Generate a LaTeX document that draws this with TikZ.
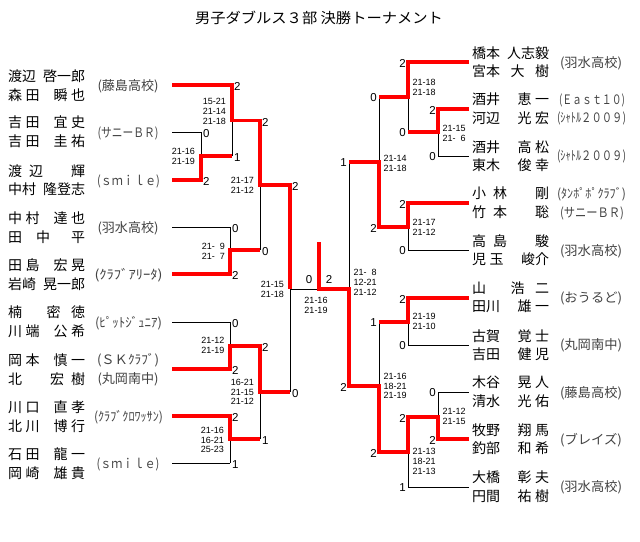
\documentclass[tikz,border=0pt]{standalone}
\usepackage{fontspec}
\usepackage{graphicx}
\setmainfont{Liberation Sans}
\newfontfamily\jpf{Noto Sans CJK JP}
\newfontfamily\numf{Liberation Sans}
\definecolor{labgray}{RGB}{66,66,66}
\definecolor{winred}{RGB}{255,0,0}
\newsavebox\fitbox
\newcommand\fitw[2]{\sbox\fitbox{#2}\pgfmathsetmacro\fitr{#1/\the\wd\fitbox}\scalebox{\fitr}[1]{\usebox\fitbox}}
\newcommand\nmb[1]{\makebox[77pt][s]{#1}}
\tikzset{
  br/.style={line width=0.9pt, black},
  win/.style={line width=3.3pt, winred, line join=miter},
  pname/.style={font=\jpf\fontsize{14}{14}\selectfont, inner sep=0pt, anchor=west},
  lab/.style={font=\jpf\fontsize{13}{13}\selectfont, inner sep=0pt, text=labgray},
  scr/.style={font=\numf\fontsize{11.5}{11.5}\selectfont, inner sep=0pt},
  gm/.style={font=\numf\fontsize{9}{9.8}\selectfont, inner sep=0pt},
  ttl/.style={font=\jpf\fontsize{14.5}{14.5}\selectfont, inner sep=0pt}
}
\begin{document}
\begin{tikzpicture}[x=1pt,y=-1pt]
\fill[white] (0,0) rectangle (640,541);
\useasboundingbox (0,0) rectangle (640,541);

\node[ttl] (title) at (319,18) {\fitw{248}{男子ダブルス３部 決勝トーナメント}};

% ---------- left players ----------
\node[pname] (l1a) at (8,75.8) {\nmb{渡辺 啓一郎}};
\node[pname] (l1b) at (8,95) {\nmb{森 田　瞬 也}};
\node[pname] (l2a) at (8,122.5) {\nmb{吉 田　宜 史}};
\node[pname] (l2b) at (8,141.7) {\nmb{吉 田　圭 祐}};
\node[pname] (l3a) at (8,170.8) {\nmb{渡 辺　　輝}};
\node[pname] (l3b) at (8,189.6) {\nmb{中村 隆登志}};
\node[pname] (l4a) at (8,217.8) {\nmb{中 村　達 也}};
\node[pname] (l4b) at (8,237) {\nmb{田　中 　平}};
\node[pname] (l5a) at (8,264.8) {\nmb{田 島　宏 晃}};
\node[pname] (l5b) at (8,284) {\nmb{岩崎 晃一郎}};
\node[pname] (l6a) at (8,312.5) {\nmb{楠 　密 徳}};
\node[pname] (l6b) at (8,331.7) {\nmb{川 端　公 希}};
\node[pname] (l7a) at (8,359.8) {\nmb{岡 本　慎 一}};
\node[pname] (l7b) at (8,379) {\nmb{北 　 宏 樹}};
\node[pname] (l8a) at (8,407) {\nmb{川 口　直 孝}};
\node[pname] (l8b) at (8,426.3) {\nmb{北 川　博 行}};
\node[pname] (l9a) at (8,454.3) {\nmb{石 田　龍 一}};
\node[pname] (l9b) at (8,473.3) {\nmb{岡 崎　雄 貴}};

% ---------- left teams ----------
\node[lab] (k1) at (128,86) {\fitw{61}{(藤島高校)}};
\node[lab] (k2) at (128,133) {\fitw{61}{(サニーＢＲ)}};
\node[lab] (k3) at (128.5,181) {\fitw{63}{(ｓｍｉｌｅ)}};
\node[lab] (k4) at (128,228) {\fitw{61}{(羽水高校)}};
\node[lab] (k5) at (128.5,275) {\fitw{68}{(ｸﾗﾌﾞｱﾘｰﾀ)}};
\node[lab] (k6) at (128.5,323) {\fitw{67}{(ﾋﾟｯﾄｼﾞｭﾆｱ)}};
\node[lab] (k7a) at (128,360) {\fitw{62}{(ＳＫｸﾗﾌﾞ)}};
\node[lab] (k7b) at (128,379) {\fitw{61}{(丸岡南中)}};
\node[lab] (k8) at (128.5,417) {\fitw{69}{(ｸﾗﾌﾞｸﾛﾜｯｻﾝ)}};
\node[lab] (k9) at (128,464) {\fitw{63}{(ｓｍｉｌｅ)}};

% ---------- right players ----------
\node[pname] (r1a) at (472,53) {\nmb{橋本 人志毅}};
\node[pname] (r1b) at (472,71) {\nmb{宮本 大 樹}};
\node[pname] (r2a) at (472,99.5) {\nmb{酒井 　恵 一}};
\node[pname] (r2b) at (472,117.8) {\nmb{河辺 　光 宏}};
\node[pname] (r3a) at (472,146.8) {\nmb{酒井 　高 松}};
\node[pname] (r3b) at (472,165) {\nmb{東木 　俊 幸}};
\node[pname] (r4a) at (472,193.5) {\nmb{小 林 　 剛}};
\node[pname] (r4b) at (472,211.7) {\nmb{竹 本 　 聡}};
\node[pname] (r5a) at (472,240.8) {\nmb{高 島 　 駿}};
\node[pname] (r5b) at (472,259) {\nmb{児 玉 　峻介}};
\node[pname] (r6a) at (472,288.5) {\nmb{山 　浩 二}};
\node[pname] (r6b) at (472,306.7) {\nmb{田川 　雄 一}};
\node[pname] (r7a) at (472,335.8) {\nmb{古賀 　覚 士}};
\node[pname] (r7b) at (472,354) {\nmb{吉田 　健 児}};
\node[pname] (r8a) at (472,382.5) {\nmb{木谷 　晃 人}};
\node[pname] (r8b) at (472,400.7) {\nmb{清水 　光 佑}};
\node[pname] (r9a) at (472,430) {\nmb{牧野 　翔 馬}};
\node[pname] (r9b) at (472,448.3) {\nmb{釣部 　和 希}};
\node[pname] (r10a) at (472,477.5) {\nmb{大橋 　彰 夫}};
\node[pname] (r10b) at (472,495.7) {\nmb{円間 　祐 樹}};

% ---------- right teams ----------
\node[lab] (q1) at (591,63) {\fitw{62}{(羽水高校)}};
\node[lab] (q2a) at (592,100) {\fitw{66}{(Ｅａｓｔ１０)}};
\node[lab] (q2b) at (591.5,118.3) {\fitw{69}{(ｼｬﾄﾙ２００９)}};
\node[lab] (q3) at (591.5,156) {\fitw{69}{(ｼｬﾄﾙ２００９)}};
\node[lab] (q4a) at (591.5,194) {\fitw{69}{(ﾀﾝﾎﾟﾎﾟｸﾗﾌﾞ)}};
\node[lab] (q4b) at (592,213) {\fitw{64}{(サニーＢＲ)}};
\node[lab] (q5) at (591,251) {\fitw{62}{(羽水高校)}};
\node[lab] (q6) at (591,298) {\fitw{62}{(おうるど)}};
\node[lab] (q7) at (591,345) {\fitw{62}{(丸岡南中)}};
\node[lab] (q8) at (591,393) {\fitw{62}{(藤島高校)}};
\node[lab] (q9) at (591,440) {\fitw{62}{(ブレイズ)}};
\node[lab] (q10) at (591,487) {\fitw{62}{(羽水高校)}};

% ---------- bracket, thin black ----------
\draw[br] (172,85)--(232,85) (172,132)--(201,132) (172,180)--(201,180)
  (201,132)--(201,180) (201,156)--(232,156) (232,85)--(232,156) (232,120.5)--(260,120.5)
  (172,227)--(230,227) (172,274)--(230,274) (230,227)--(230,274) (230,250)--(260,250)
  (260,120.5)--(260,250) (260,185)--(290,185)
  (172,322)--(230,322) (172,369)--(230,369) (230,322)--(230,369) (230,346)--(260,346)
  (172,416)--(230,416) (172,463)--(230,463) (230,416)--(230,463) (230,439)--(260,439)
  (260,346)--(260,439) (260,392)--(290,392)
  (290,185)--(290,392) (290,289)--(349,289);
\draw[br] (408,62)--(469,62) (438,109)--(469,109) (438,156)--(469,156)
  (438,109)--(438,156) (408,132)--(438,132) (408,62)--(408,132) (379,97)--(408,97)
  (408,203)--(469,203) (408,250)--(469,250) (408,203)--(408,250) (379,227)--(408,227)
  (379,97)--(379,227) (349,162)--(379,162)
  (408,298)--(469,298) (408,345)--(469,345) (408,298)--(408,345) (379,322)--(408,322)
  (438,392)--(469,392) (438,439)--(469,439) (438,392)--(438,439) (408,417)--(438,417)
  (408,487)--(469,487) (408,417)--(408,487) (379,452)--(408,452)
  (379,322)--(379,452) (349,386)--(379,386) (349,162)--(349,386);

% ---------- winners, red ----------
\draw[win] (172,85)--(232,85)--(232,120.5)--(260,120.5)--(260,185)--(290,185)--(290,289);
\draw[win] (172,180)--(201,180)--(201,156)--(232,156);
\draw[win] (172,274)--(230,274)--(230,250)--(260,250);
\draw[win] (172,369)--(230,369)--(230,346)--(260,346)--(260,392)--(290,392);
\draw[win] (172,416)--(230,416)--(230,439)--(260,439);
\draw[win] (469,62)--(408,62)--(408,97)--(379,97);
\draw[win] (469,109)--(438,109)--(438,132)--(408,132);
\draw[win] (469,203)--(408,203)--(408,227)--(379,227)--(379,162)--(349,162);
\draw[win] (469,298)--(408,298)--(408,322)--(379,322);
\draw[win] (469,439)--(438,439)--(438,417)--(408,417)--(408,452)--(379,452)--(379,386)--(349,386)--(349,289)--(319,289)--(319,242);

% ---------- match scores, left ----------
\node[scr,anchor=west] (a1) at (234,86.7) {2};
\node[scr,anchor=west] (a2) at (203,133.7) {0};
\node[scr,anchor=west] (a3) at (203,181.7) {2};
\node[scr,anchor=west] (a4) at (234,157.7) {1};
\node[scr,anchor=west] (a5) at (262,122.2) {2};
\node[scr,anchor=west] (a6) at (232,228.7) {0};
\node[scr,anchor=west] (a7) at (232,275.7) {2};
\node[scr,anchor=west] (a8) at (262,251.7) {0};
\node[scr,anchor=west] (a9) at (292,186.7) {2};
\node[scr,anchor=west] (a10) at (232,323.7) {0};
\node[scr,anchor=west] (a11) at (232,370.7) {2};
\node[scr,anchor=west] (a12) at (262,347.7) {2};
\node[scr,anchor=west] (a13) at (232,417.7) {2};
\node[scr,anchor=west] (a14) at (232,464.7) {1};
\node[scr,anchor=west] (a15) at (262,440.7) {1};
\node[scr,anchor=west] (a16) at (292,393.7) {0};
\node[scr] (fl) at (309,279.5) {0};
\node[scr] (fr) at (329,279.5) {2};

% ---------- match scores, right ----------
\node[scr,anchor=east] (b1) at (406,63) {2};
\node[scr,anchor=east] (b2) at (436,110) {2};
\node[scr,anchor=east] (b3) at (436,157) {0};
\node[scr,anchor=east] (b4) at (406,133) {0};
\node[scr,anchor=east] (b5) at (377,98) {0};
\node[scr,anchor=east] (b6) at (406,204) {2};
\node[scr,anchor=east] (b7) at (406,251) {0};
\node[scr,anchor=east] (b8) at (377,228) {2};
\node[scr,anchor=east] (b9) at (347,163) {1};
\node[scr,anchor=east] (b10) at (406,299) {2};
\node[scr,anchor=east] (b11) at (406,346) {0};
\node[scr,anchor=east] (b12) at (377,323) {1};
\node[scr,anchor=east] (b13) at (436,393) {0};
\node[scr,anchor=east] (b14) at (436,440) {2};
\node[scr,anchor=east] (b15) at (406,418) {2};
\node[scr,anchor=east] (b16) at (406,488) {1};
\node[scr,anchor=east] (b17) at (377,453) {2};
\node[scr,anchor=east] (b18) at (347,387) {2};

% ---------- game scores, left ----------
\node[gm,align=right,anchor=east] (g1) at (226,111.5) {15-21\\21-14\\21-18};
\node[gm,align=right,anchor=east] (g2) at (195,156.5) {21-16\\21-19};
\node[gm,align=right,anchor=east] (g3) at (254,185.3) {21-17\\21-12};
\node[gm,align=right,anchor=east] (g4) at (225,251) {21-\phantom{0}9\\21-\phantom{0}7};
\node[gm,align=right,anchor=east] (g5) at (284,289) {21-15\\21-18};
\node[gm,align=right,anchor=east] (g6) at (224.5,345.7) {21-12\\21-19};
\node[gm,align=right,anchor=east] (g7) at (254,392) {16-21\\21-15\\21-12};
\node[gm,align=right,anchor=east] (g8) at (224,440) {21-16\\16-21\\25-23};
\node[gm,align=center] (gf) at (316,305) {21-16\\21-19};

% ---------- game scores, right ----------
\node[gm,align=left,anchor=west] (h1) at (412.5,87.5) {21-18\\21-18};
\node[gm,align=left,anchor=west] (h2) at (442.5,133.3) {21-15\\21-\phantom{0}6};
\node[gm,align=left,anchor=west] (h3) at (383.5,163) {21-14\\21-18};
\node[gm,align=left,anchor=west] (h4) at (412.5,227.7) {21-17\\21-12};
\node[gm,align=left,anchor=west] (h5) at (353.5,282.3) {21-\phantom{0}8\\12-21\\21-12};
\node[gm,align=left,anchor=west] (h6) at (412.5,321.7) {21-19\\21-10};
\node[gm,align=left,anchor=west] (h7) at (383.5,386) {21-16\\18-21\\21-19};
\node[gm,align=left,anchor=west] (h8) at (442.5,416) {21-12\\21-15};
\node[gm,align=left,anchor=west] (h9) at (412.5,461.3) {21-13\\18-21\\21-13};
\end{tikzpicture}
\end{document}
